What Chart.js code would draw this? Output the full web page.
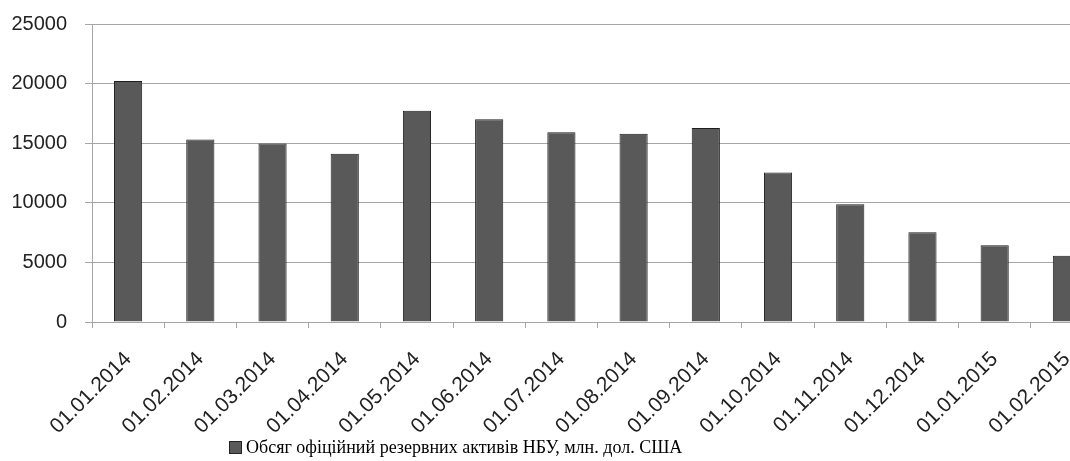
<!DOCTYPE html>
<html>
<head>
<meta charset="utf-8">
<script src="https://cdn.jsdelivr.net/npm/chart.js@4"></script>
<style>
  body { margin: 0; background: #fff; overflow: hidden; }
  #wrap { position: relative; width: 1110px; height: 461px; }
  #legend {
    position: absolute; left: 229px; top: 437px;
    font: 18px "Liberation Serif", "Times New Roman", serif; color: #000;
    white-space: nowrap; display: flex; align-items: center;
  }
  #legend span.box {
    display: inline-block; width: 11px; height: 11px;
    background: #595959; border: 1px solid #222; margin-right: 4px;
  }
</style>
</head>
<body>
<div id="wrap">
  <canvas id="chart" width="1110" height="461"></canvas>
  <div id="legend"><span class="box"></span><span id="legend-text"></span></div>
</div>
<script>
const labels = ['01.01.2014', '01.02.2014', '01.03.2014', '01.04.2014', '01.05.2014',
  '01.06.2014', '01.07.2014', '01.08.2014', '01.09.2014', '01.10.2014',
  '01.11.2014', '01.12.2014', '01.01.2015', '01.02.2015'];
const reserves = [20225, 15300, 14975, 14120, 17725, 17000, 15920, 15800, 16280, 12550, 9880, 7525, 6440, 5550];
const seriesName = 'Обсяг офіційний резервних активів НБУ, млн. дол. США';

document.getElementById('legend-text').textContent = seriesName;

const ctx = document.getElementById('chart').getContext('2d');
const chart = new Chart(ctx, {
  type: 'bar',
  data: {
    labels: labels,
    datasets: [{
      label: seriesName,
      data: reserves,
      backgroundColor: '#595959',
      borderColor: '#1e1e1e',
      borderWidth: 1,
      categoryPercentage: 1,
      barPercentage: 0.39
    }]
  },
  options: {
    responsive: false,
    animation: false,
    layout: { padding: { top: 24, right: 7, bottom: 0, left: 0 } },
    plugins: {
      legend: { display: false },
      tooltip: { enabled: false }
    },
    scales: {
      x: {
        grid: { offset: true, drawOnChartArea: false, tickLength: 6, color: '#a6a6a6' },
        border: { color: '#a6a6a6' },
        ticks: {
          minRotation: 45, maxRotation: 45, autoSkip: false, padding: 19,
          color: '#222', font: { family: 'Liberation Sans', size: 21 }
        },
        // fix the plot box to the reference size
        afterFit: scale => {
          scale.height = 139;
          scale.paddingLeft = 0;
          scale.paddingRight = 0;
        }
      },
      y: {
        min: 0,
        max: 25000,
        grid: { color: '#a6a6a6', tickLength: 7 },
        border: { color: '#a6a6a6' },
        ticks: {
          stepSize: 5000, padding: 18, color: '#222',
          font: { family: 'Liberation Sans', size: 20 },
          callback: v => String(v)
        },
        afterFit: scale => {
          scale.width = 92;
          scale.paddingTop = 0;
          scale.paddingBottom = 0;
        }
      }
    }
  }
});
</script>
</body>
</html>
